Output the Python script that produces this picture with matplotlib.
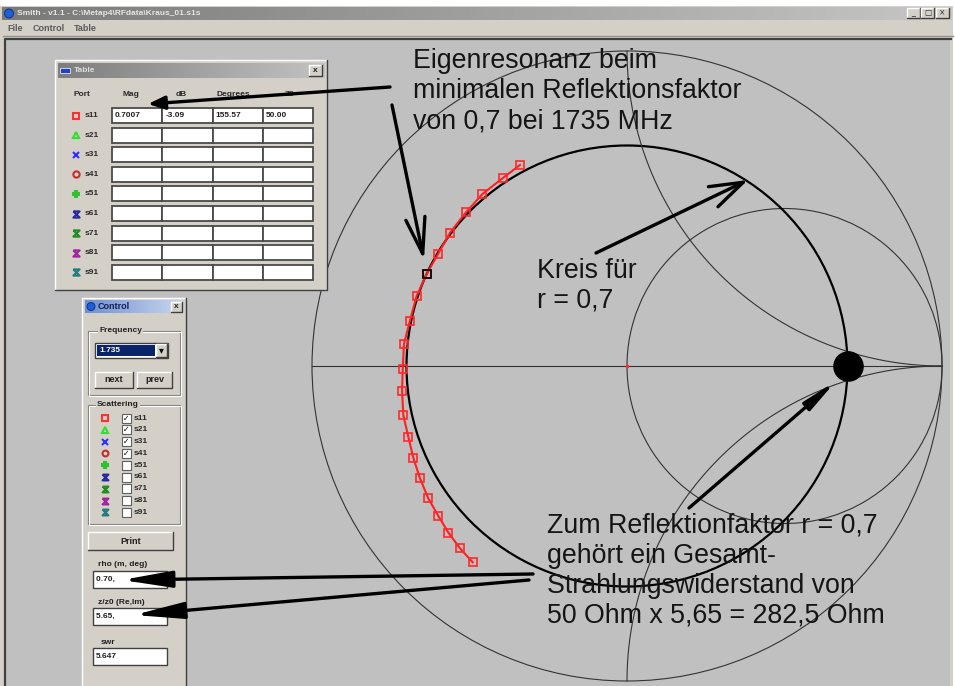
import numpy as np
import matplotlib.pyplot as plt
from matplotlib.patches import Rectangle, Circle, FancyArrowPatch
from matplotlib.colors import LinearSegmentedColormap

# --- values ---
# s11 trace as reflection factor (real / imaginary part), low to high frequency
s11_re = [-0.340, -0.395, -0.459, -0.511, -0.562, -0.599, -0.636, -0.668, -0.689, -0.708,
          -0.712, -0.714, -0.710, -0.694, -0.678, -0.657, -0.631, -0.599, -0.567, -0.530, -0.490]
s11_im = [0.638, 0.596, 0.546, 0.488, 0.423, 0.357, 0.292, 0.222, 0.144, 0.070,
          -0.009, -0.080, -0.157, -0.226, -0.293, -0.357, -0.420, -0.476, -0.529, -0.579, -0.623]
sel_idx = 6            # selected point, 1.735 GHz
rho_circle = 0.7       # circle |r| = 0.7
rho_point = 0.7        # r = 0.7 on the real axis (z = 5.65)
r_circles = [1.0]
x_arcs = [1.0, -1.0]

ports = ['s11', 's21', 's31', 's41', 's51', 's61', 's71', 's81', 's91']
port_colors = ['#ff3030', '#30e030', '#3030ff', '#c03030', '#30c030',
               '#2828a0', '#208c20', '#a020a0', '#207c7c']
port_markers = ['s', '^', 'x', 'o', 'P', 'bow', 'bow', 'bow', 'bow']
port_checked = [True, True, True, True, False, False, False, False, False]

table_cols = ['Port', 'Mag', 'dB', 'Degrees', 'Z0']
table_s11 = ['0.7007', '-3.09', '155.57', '50.00']
freq_value = '1.735'
rho_value = '0.70, '
z_value = '5.65, '
swr_value = '5.647'

title_text = r'Smith - v1.1 - C:\Metap4\RFdata\Kraus_01.s1s'
menu_items = ['File', 'Control', 'Table']

note_top = ['Eigenresonanz beim', 'minimalen Reflektionsfaktor', 'von 0,7 bei 1735 MHz']
note_circle = ['Kreis für', 'r = 0,7']
note_bottom = ['Zum Reflektionfaktor r = 0,7', 'gehört ein Gesamt-',
               'Strahlungswiderstand von', '50 Ohm x 5,65 = 282,5 Ohm']

W, H = 955, 686
CX, CY, R = 627, 366, 315      # chart centre and radius in pixels
FACE = '#d4d0c8'
ui = dict(family=['Liberation Sans', 'DejaVu Sans'], fontsize=6, fontweight='bold', color='#202020')
big = dict(family=['Liberation Sans', 'DejaVu Sans'], fontsize=19.3, color='#151515')

fig = plt.figure(figsize=(W / 100, H / 100), dpi=100, facecolor='white')


def pix_axes(z):
    a = fig.add_axes([0, 0, 1, 1], zorder=z)
    a.axis('off')
    return a


def gradient(a, x0, y0, x1, y1, c0, c1):
    cmap = LinearSegmentedColormap.from_list('g', [c0, c1])
    a.imshow(np.linspace(0, 1, 128)[None, :], cmap=cmap, extent=(x0, x1, y1, y0),
             aspect='auto', zorder=3)


def bevel(a, x, y, w, h, fc=FACE, raised=True, z=2):
    a.add_patch(Rectangle((x, y), w, h, fc=fc, ec='none', zorder=z))
    lt, rb = ('white', '#404040') if raised else ('#808080', 'white')
    a.plot([x, x, x + w], [y + h, y, y], color=lt, lw=1, zorder=z + 0.1)
    a.plot([x, x + w, x + w], [y + h, y + h, y], color=rb, lw=1, zorder=z + 0.1)


def port_icon(a, x, y, i, ms=4.5):
    m = port_markers[i]
    if m == 'bow':
        m = [(-1, 1), (1, 1), (-1, -1), (1, -1), (-1, 1)]
    a.plot(x, y, marker=m, ms=ms, mfc='none' if port_markers[i] != 'P' else port_colors[i],
           mec=port_colors[i], mew=1.5, zorder=6)


# ---------------- main window chrome ----------------
bg = pix_axes(0)
bg.add_patch(Rectangle((0, 6), 953, 680, fc=FACE, ec='none'))
gradient(bg, 2, 7, 951, 20, '#7a7a7a', '#c6c6c6')
bg.add_patch(Circle((9, 13.5), 4.5, fc='#1f5fd8', ec='#0a2a80', lw=0.6, zorder=4))
bg.text(17, 13.5, title_text, va='center', **{**ui, 'color': '#e6e6e6'}, zorder=5)
for bx, lab in zip([907, 921, 936], ['_', '□', '×']):
    bevel(bg, bx, 8, 13, 10, z=4)
    bg.text(bx + 6.5, 13, lab, ha='center', va='center', fontsize=5.5, color='#303030', zorder=5)
for mx, lab in zip([7, 33, 74], menu_items):
    bg.text(mx, 28.5, lab, va='center', **{**ui, 'color': '#5a5a5a', 'fontsize': 6.5})
bg.add_patch(Rectangle((6, 40), 944, 646, fc='#c0c0c0', ec='none', zorder=2))
bg.plot([5, 5, 951], [686, 39, 39], color='#404040', lw=1.6, zorder=3)
bg.plot([3, 953], [36, 36], color='#909090', lw=1, zorder=3)
bg.set_xlim(0, W)
bg.set_ylim(H, 0)

# ---------------- Smith chart ----------------
ax = fig.add_axes([6 / W, 0, 944 / W, 646 / H], zorder=1)
ax.axis('off')
ax.set_xlim((6 - CX) / R, (950 - CX) / R)
ax.set_ylim((CY - 686) / R, (CY - 40) / R)

thin = dict(color='#333333', lw=0.8)
ax.add_patch(Circle((0, 0), 1, fill=False, **thin))
ax.plot([-1, 1], [0, 0], **thin)
for r in r_circles:
    ax.add_patch(Circle((r / (1 + r), 0), 1 / (1 + r), fill=False, **thin))
rr = np.concatenate([[0.0], np.logspace(-3, 4, 800)])
for xv in x_arcs:
    g = (rr + 1j * xv - 1) / (rr + 1j * xv + 1)
    ax.plot(g.real, g.imag, **thin)
ax.add_patch(Circle((0, 0), rho_circle, fill=False, color='black', lw=1.6))
ax.plot(0, 0, 's', ms=1.5, color='#ff3030')

ax.plot(s11_re, s11_im, color='#ff2020', lw=1.5, marker='s', ms=6.3,
        mfc='none', mec='#ff2828', mew=1.2)
ax.plot(s11_re[sel_idx], s11_im[sel_idx], 's', ms=6.3, mfc='none', mec='black', mew=1.2)
ax.plot(rho_point, 0, 'o', ms=21, color='black')

# ---------------- child windows ----------------
fg = pix_axes(2)

# Table window
tx, ty, tw, th = 55, 60, 272, 230
bevel(fg, tx, ty, tw, th)
gradient(fg, tx + 3, ty + 3, tx + tw - 3, ty + 18, '#7e7e7e', '#c2c2c2')
fg.add_patch(Rectangle((tx + 5, ty + 8), 10, 5, fc='#2040d0', ec='white', lw=0.5, zorder=4))
fg.text(tx + 19, ty + 10.5, 'Table', va='center', zorder=5, **{**ui, 'color': '#dcdcdc'})
bevel(fg, tx + tw - 18, ty + 5, 13, 11, z=4)
fg.text(tx + tw - 11.5, ty + 10.5, 'x', ha='center', va='center', zorder=5, **ui)
for hx, lab in zip([73, 122, 176, 216, 285], table_cols):
    fg.text(hx, 95, lab, va='center', zorder=5, **{**ui, 'color': '#2a2a2a'})
for i, p in enumerate(ports):
    yc = 115.5 + i * 19.6
    port_icon(fg, 76, yc, i)
    fg.text(85, yc, p, va='center', zorder=5, **{**ui, 'color': '#2a2a2a'})
    for j in range(4):
        fg.add_patch(Rectangle((112 + j * 50.3, yc - 7.5), 50.3, 15, fc='white',
                               ec='#4a4a4a', lw=1.3, zorder=4))
        if i == 0:
            fg.text(115 + j * 50.3, yc, table_s11[j], va='center', zorder=5, **ui)

# Control window
cx0, cy0, cw, chh = 82, 298, 104, 392
bevel(fg, cx0, cy0, cw, chh)
gradient(fg, cx0 + 3, cy0 + 2, cx0 + cw - 3, cy0 + 15, '#6f8fcf', '#cad8f0')
fg.add_patch(Circle((cx0 + 9, cy0 + 8.5), 4, fc='#1f5fd8', ec='#0a2a80', lw=0.6, zorder=4))
fg.text(cx0 + 16, cy0 + 8.5, 'Control', va='center', zorder=5,
        **{**ui, 'color': '#10205a', 'fontsize': 6.5})
bevel(fg, cx0 + cw - 15, cy0 + 4, 11, 10, z=4)
fg.text(cx0 + cw - 9.5, cy0 + 9, 'x', ha='center', va='center', zorder=5, **ui)


def group(a, x, y, w, h, label, lx):
    a.add_patch(Rectangle((x, y), w, h, fill=False, ec='#808080', lw=0.8, zorder=3))
    a.add_patch(Rectangle((x + 1, y + 1), w, h, fill=False, ec='white', lw=0.8, zorder=3))
    a.text(lx, y, label, va='center', zorder=5,
           bbox=dict(fc=FACE, ec='none', pad=0.5), **ui)


group(fg, 88, 331, 92, 64, 'Frequency', 99)
fg.add_patch(Rectangle((95, 343), 73, 15, fc='white', ec='#404040', lw=1, zorder=4))
fg.add_patch(Rectangle((97, 345), 58, 11, fc='#0a246a', ec='none', zorder=4.5))
fg.text(99, 350.5, freq_value, va='center', zorder=5, **{**ui, 'color': 'white'})
bevel(fg, 156, 344, 11, 13, z=4.6)
fg.text(161.5, 350.5, '▾', ha='center', va='center', zorder=5, fontsize=7, color='black')
for bx, bw, lab in [(95, 38, 'next'), (137, 35, 'prev')]:
    bevel(fg, bx, 372, bw, 16, z=4)
    fg.text(bx + bw / 2, 380, lab, ha='center', va='center', zorder=5, **{**ui, 'fontsize': 6.5})

group(fg, 88, 405, 92, 119, 'Scattering', 97)
for i, p in enumerate(ports):
    yc = 418 + i * 11.8
    port_icon(fg, 105, yc, i, ms=4.2)
    fg.add_patch(Rectangle((122, yc - 4.5), 9, 9, fc='white', ec='#606060', lw=0.8, zorder=4))
    if port_checked[i]:
        fg.text(126.5, yc, '✓', ha='center', va='center', zorder=5,
                family='DejaVu Sans', fontsize=5.5, color='black')
    fg.text(134, yc, p, va='center', zorder=5, **{**ui, 'color': '#2a2a2a'})

bevel(fg, 88, 532, 85, 18, z=4)
fg.text(130.5, 541, 'Print', ha='center', va='center', zorder=5, **{**ui, 'fontsize': 6.5})
for ly, lab, by, val in [(565, 'rho (m, deg)', 571, rho_value),
                         (602, 'z/z0 (Re,Im)', 608, z_value),
                         (642, 'swr', 648, swr_value)]:
    fg.text(98 if lab != 'swr' else 101, ly, lab, va='center', zorder=5, **ui)
    fg.add_patch(Rectangle((93, by), 74, 17, fc='white', ec='#404040', lw=1, zorder=4))
    fg.text(96, by + 8.5, val, va='center', zorder=5, **ui)

# ---------------- hand-drawn notes ----------------
for k, line in enumerate(note_top):
    fg.text(413, 68 + k * 30.5, line, va='baseline', zorder=8, **big)
for k, line in enumerate(note_circle):
    fg.text(537, 278 + k * 29.5, line, va='baseline', zorder=8, **big)
for k, line in enumerate(note_bottom):
    fg.text(547, 533 + k * 30, line, va='baseline', zorder=8, **big)

arrows = [((390, 87), (148, 104), '-|>', 0.5, 0.2),
          ((392, 105), (424, 260), '->', 1.3, 0.35),
          ((596, 253), (748, 180), '->', 1.2, 0.4),
          ((689, 508), (836, 381), '-|>', 1.0, 0.15),
          ((533, 574), (122, 580), '-|>', 1.5, 0.25),
          ((529, 580), (134, 615), '-|>', 1.5, 0.25)]
for tail, tip, style, hl, hw in arrows:
    fg.add_patch(FancyArrowPatch(tail, tip, arrowstyle=f'{style},head_length={hl},head_width={hw}',
                                 mutation_scale=20, color='black', lw=2.4,
                                 shrinkA=0, shrinkB=0, zorder=9))

fg.set_xlim(0, W)
fg.set_ylim(H, 0)

plt.savefig('out.png', dpi=100, facecolor=fig.get_facecolor())
